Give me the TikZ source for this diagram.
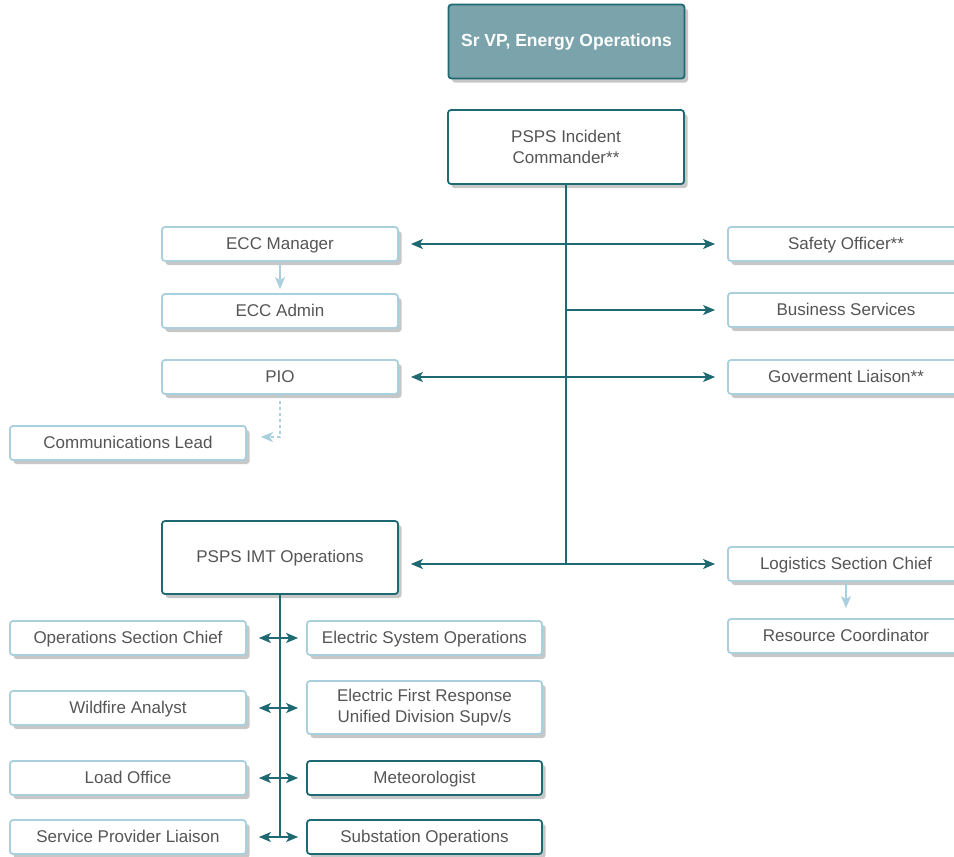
\documentclass[tikz,border=0pt]{standalone}
\usepackage{fontspec}
\setmainfont{Liberation Sans}
\usetikzlibrary{arrows.meta,shadows}
\definecolor{teal}{HTML}{1F6A72}
\definecolor{lightrim}{HTML}{A9D0DC}
\definecolor{headfill}{HTML}{7BA3AB}
\definecolor{txt}{HTML}{555555}
\begin{document}
\begin{tikzpicture}[x=1pt,y=-1pt,
  font=\fontsize{17}{21}\selectfont, text=txt,
  >={Stealth[length=12pt,width=10pt,inset=3pt]},
  box/.style={draw=lightrim, line width=1.8pt, fill=white, rounded corners=3pt,
    minimum width=236pt, minimum height=34pt, align=center, inner sep=0pt,
    text height=13pt, text depth=3pt,
    drop shadow={shadow xshift=3.5pt, shadow yshift=-4pt, fill=black!22, opacity=1}},
  twoline/.style={text height={}, text depth={}},
  darkbox/.style={box, draw=teal},
  tallbox/.style={darkbox, minimum height=74pt},
  link/.style={draw=teal, line width=1.4pt},
  soft/.style={draw=lightrim, line width=1.4pt}]
\clip (0,0) rectangle (954,857);
\node [tallbox, fill=headfill, text=white, font=\fontsize{17.5}{21}\selectfont\bfseries] (vp) at (566.5,41.5) {Sr VP, Energy Operations};
\node [tallbox, twoline] (ic) at (566,147) {PSPS Incident\\Commander**};
\node [box] (eccm) at (280,244) {ECC Manager};
\node [box] (ecca) at (280,311) {ECC Admin};
\node [box] (pio) at (280,377) {PIO};
\node [box] (comm) at (128,443) {Communications Lead};
\node [box] (safe) at (846,244) {Safety Officer**};
\node [box] (bus) at (846,310) {Business Services};
\node [box] (gov) at (846,377) {Goverment Liaison**};
\node [tallbox, minimum height=73pt] (imt) at (280,557.5) {PSPS IMT Operations};
\node [box] (log) at (846,564) {Logistics Section Chief};
\node [box] (res) at (846,636) {Resource Coordinator};
\node [box] (osc) at (128,638) {Operations Section Chief};
\node [box, minimum width=235pt] (eso) at (424.5,638) {Electric System Operations};
\node [box] (wfa) at (128,708) {Wildfire Analyst};
\node [box, twoline, minimum width=235pt, minimum height=53pt] (efr) at (424.5,707.5) {Electric First Response\\Unified Division Supv/s};
\node [box] (load) at (128,778) {Load Office};
\node [darkbox, minimum width=235pt] (met) at (424.5,778) {Meteorologist};
\node [box] (spl) at (128,837) {Service Provider Liaison};
\node [darkbox, minimum width=235pt] (sub) at (424.5,837) {Substation Operations};

\draw [link] (ic.south) -- (ic.south |- log);
\draw [link, <->, shorten <=12pt, shorten >=12pt] (eccm.east) -- (safe.west);
\draw [link, ->, shorten >=12pt] (ic.south |- bus) -- (bus.west);
\draw [link, <->, shorten <=12pt, shorten >=12pt] (pio.east) -- (gov.west);
\draw [link, <->, shorten <=12pt, shorten >=12pt] (imt.east |- log) -- (log.west);

\draw [soft, ->, shorten <=1pt, shorten >=4pt] (eccm) -- (ecca);
\draw [soft, dashed, ->, shorten >=14pt] (pio.south) |- ([yshift=6pt]comm.east);
\draw [soft, ->, shorten <=1pt, shorten >=10pt] (log) -- (res);

\draw [link] (imt.south) -- (imt.south |- spl);
\foreach \l/\r in {osc/eso, wfa/efr, load/met, spl/sub}
  \draw [link, <->, shorten <=12pt, shorten >=8pt] (\l.east) -- (\l.east -| \r.west);
\end{tikzpicture}
\end{document}
